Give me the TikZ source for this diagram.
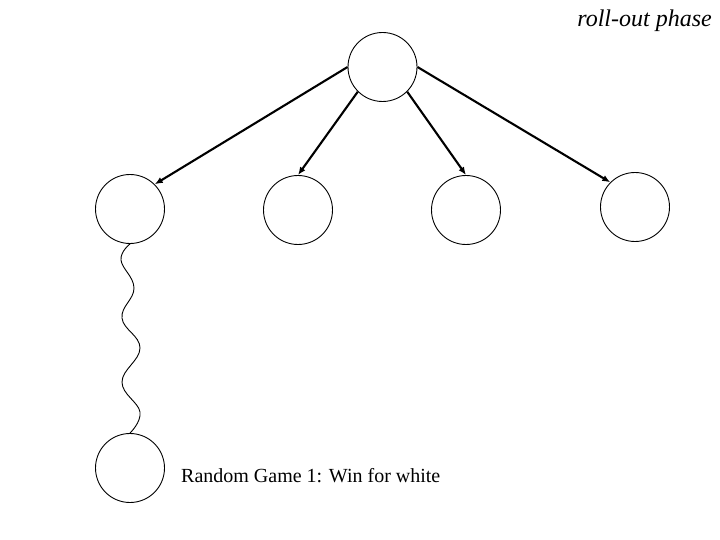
\documentclass[tikz,border=0pt]{standalone}
\usepackage{fontspec}
\setmainfont{Liberation Serif}
\usetikzlibrary{arrows.meta}
\begin{document}
\begin{tikzpicture}[x=1pt,y=-1pt,
  state/.style={draw,circle,minimum size=69pt,inner sep=0pt,line width=0.9pt},
  move/.style={line width=2.1pt,-{Latex[length=8pt,width=6.5pt]}},
  rollout/.style={line width=0.9pt}]
\useasboundingbox (0,0) rectangle (720,540);
\node[state] (r) at (382.5,67) {};
\node[state] (c1) at (130,209) {};
\node[state] (c2) at (298,210) {};
\node[state] (c3) at (466,210) {};
\node[state] (c4) at (635,207) {};
\node[state] (b) at (130,468) {};
\draw[move] (r.west) -- (c1.north east);
\draw[move] (r.south west) -- (c2.north);
\draw[move] (r.south east) -- (c3.north);
\draw[move] (r.east) -- (c4.north west);
\draw[rollout] plot[smooth,tension=0.7] coordinates {(c1.south) (121,260) (134,288) (122,318) (140,348) (122,382) (140,412) (b.north)};
\node[anchor=base west,inner sep=0pt,font=\fontsize{20}{24}\selectfont] (t) at (181,482) {Random Game 1: Win for white};
\node[anchor=base east,inner sep=0pt,font=\fontsize{24}{28}\selectfont\itshape] (p) at (712,27) {roll-out phase};
\end{tikzpicture}
\end{document}
